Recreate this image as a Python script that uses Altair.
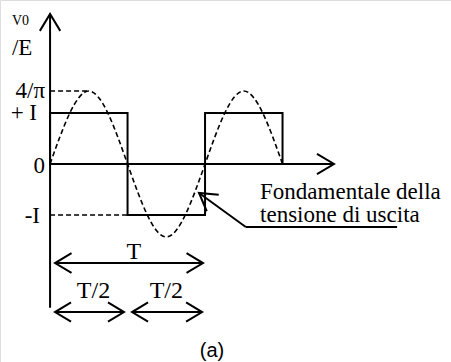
import math
import altair as alt
import pandas as pd

# Time is measured in periods T, amplitude in units of E.
I_LEVEL = 0.89              # square-wave level (+I / -I)
FUND_PEAK = 4 / math.pi     # amplitude of the fundamental

# Square-wave output voltage: corner points over 1.5 periods
sq_t = [0.0, 0.0, 0.5, 0.5, 1.0, 1.0, 1.5, 1.5]
sq_v = [0.0, I_LEVEL, I_LEVEL, -I_LEVEL, -I_LEVEL, I_LEVEL, I_LEVEL, 0.0]

# Fundamental: zero crossings and extremes (smoothed by a natural spline)
fu_t = [0.0, 0.25, 0.5, 0.75, 1.0, 1.25, 1.5]
fu_v = [0.0, FUND_PEAK, 0.0, -FUND_PEAK, 0.0, FUND_PEAK, 0.0]

# Dashed reference levels: 4/pi up to the first peak, -I up to T/2
ref_t0 = [0.0, 0.0]
ref_t1 = [0.25, 0.5]
ref_v = [FUND_PEAK, -I_LEVEL]

# Period markers: T and the two half periods
span_label = ["T", "T/2", "T/2"]
span_t0 = [0.032, 0.032, 0.529]
span_t1 = [0.987, 0.477, 0.981]
span_v = [-1.728, -2.583, -2.583]
span_text_t = [0.54, 0.28, 0.75]
span_text_v = [-1.65, -2.33, -2.33]

# Axis extents
Y_AXIS_BOTTOM, Y_AXIS_TOP = -2.51, 2.62
X_AXIS_END = 1.832

# Plot frame (data domain covering the whole canvas)
X_DOMAIN = [-0.323, 2.587]
Y_DOMAIN = [-3.455, 2.862]
W, H = 451, 362
PX_PER_T = W / (X_DOMAIN[1] - X_DOMAIN[0])
PX_PER_E = H / (Y_DOMAIN[1] - Y_DOMAIN[0])

# Annotation pointing to the fundamental
note_tip = (0.961, -0.506)
note_tail = (1.263, -1.099)
note_end_t = 2.239

xs = alt.Scale(domain=X_DOMAIN, nice=False, zero=False)
ys = alt.Scale(domain=Y_DOMAIN, nice=False, zero=False)
X = lambda f: alt.X(f, type="quantitative", scale=xs, axis=None)
Y = lambda f: alt.Y(f, type="quantitative", scale=ys, axis=None)

CHEVRON = "M-1,-0.6L0,0L-1,0.6"

square = pd.DataFrame({"t": sq_t, "v": sq_v, "k": range(len(sq_t))})
fund = pd.DataFrame({"t": fu_t, "v": fu_v})
refs = pd.DataFrame({"t0": ref_t0, "t1": ref_t1, "v": ref_v})

# Straight solid segments: axes, period markers, annotation leader + underline
seg = pd.DataFrame({
    "t0": [0.0, 0.0] + span_t0 + [note_tail[0], note_tail[0]],
    "v0": [Y_AXIS_BOTTOM, 0.0] + span_v + [note_tail[1], note_tail[1]],
    "t1": [0.0, X_AXIS_END] + span_t1 + [note_tip[0], note_end_t],
    "v1": [Y_AXIS_TOP, 0.0] + span_v + [note_tip[1], note_tail[1]],
})

# Arrowheads (open chevrons), angle measured clockwise on screen
note_angle = math.degrees(math.atan2(
    -(note_tip[1] - note_tail[1]) * PX_PER_E,
    (note_tip[0] - note_tail[0]) * PX_PER_T)) % 360
heads = pd.DataFrame({
    "t": [0.0, X_AXIS_END] + span_t0 + span_t1 + [note_tip[0]],
    "v": [Y_AXIS_TOP, 0.0] + span_v + span_v + [note_tip[1]],
    "a": [270, 0] + [180, 180, 180] + [0, 0, 0] + [note_angle],
    "s": [1156, 1156, 1089, 1024, 1024, 1089, 1024, 1024, 1156],
})

serif = "Liberation Serif"
left_labels = pd.DataFrame({
    "t": [-0.246, -0.246],
    "v": [2.43, 1.90],
    "txt": ["V0", "/E"],
    "fs": [14, 23],
})
right_labels = pd.DataFrame({
    "t": [-0.032, -0.084, -0.032, -0.065],
    "v": [1.155, 0.77, -0.15, -1.03],
    "txt": ["4/\u03c0", "+ I", "0", "-I"],
})

square_line = alt.Chart(square).mark_line(
    color="black", strokeWidth=2, strokeJoin="miter", strokeCap="square"
).encode(x=X("t"), y=Y("v"), order="k:Q")

fund_line = alt.Chart(fund).mark_line(
    color="black", strokeWidth=1.6, strokeDash=[5, 3], interpolate="natural"
).encode(x=X("t"), y=Y("v"))

ref_lines = alt.Chart(refs).mark_rule(
    color="black", strokeWidth=1.6, strokeDash=[5, 3]
).encode(x=X("t0"), x2="t1", y=Y("v"))

seg_lines = alt.Chart(seg).mark_rule(color="black", strokeWidth=2).encode(
    x=X("t0"), x2="t1", y=Y("v0"), y2="v1"
)

head_marks = alt.Chart(heads).mark_point(
    shape=CHEVRON, filled=False, color="black", strokeWidth=2, opacity=1
).encode(
    x=X("t"), y=Y("v"),
    angle=alt.Angle("a:Q", scale=None),
    size=alt.Size("s:Q", scale=None),
)

left_text = alt.Chart(left_labels).mark_text(
    font=serif, color="black", align="left", baseline="alphabetic"
).encode(x=X("t"), y=Y("v"), text="txt:N", size=alt.Size("fs:Q", scale=None))

right_text = alt.Chart(right_labels).mark_text(
    font=serif, fontSize=23, color="black", align="right", baseline="alphabetic"
).encode(x=X("t"), y=Y("v"), text="txt:N")

spans = pd.DataFrame({"t": span_text_t, "v": span_text_v, "txt": span_label})
span_text = alt.Chart(spans).mark_text(
    font=serif, fontSize=24, color="black", align="center", baseline="alphabetic"
).encode(x=X("t"), y=Y("v"), text="txt:N")

note = pd.DataFrame({
    "t": [1.355, 1.355],
    "v": [-0.61, -1.01],
    "txt": ["Fondamentale della", "tensione di uscita"],
})
note_text = alt.Chart(note).mark_text(
    font=serif, fontSize=23, color="black", align="left", baseline="alphabetic"
).encode(x=X("t"), y=Y("v"), text="txt:N")

caption = alt.Chart(pd.DataFrame({"t": [1.045], "v": [-3.36], "txt": ["(a)"]})).mark_text(
    font="Liberation Sans", fontSize=20, color="black", align="center", baseline="alphabetic"
).encode(x=X("t"), y=Y("v"), text="txt:N")

chart = alt.layer(
    ref_lines, fund_line, square_line, seg_lines, head_marks,
    left_text, right_text, span_text, note_text, caption,
).properties(
    width=W, height=H, padding=0, autosize=alt.AutoSizeParams(type="none")
).configure_view(stroke=None).configure(background="white")

chart.save("out.html", embed_options={"renderer": "svg", "actions": False})
